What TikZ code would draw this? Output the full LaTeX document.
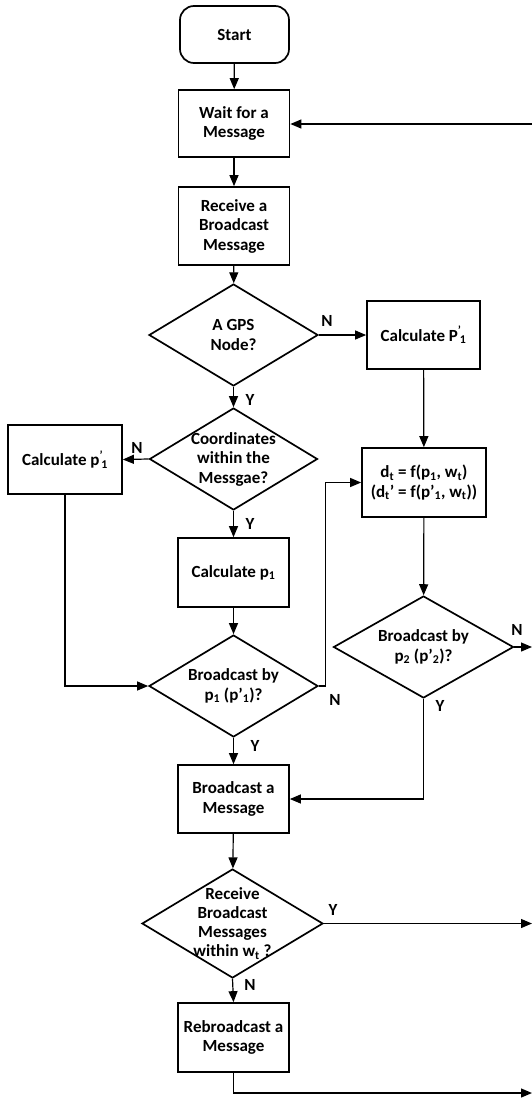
\documentclass[tikz,border=0pt]{standalone}
\usepackage{fontspec}
\setmainfont{Carlito}
\usetikzlibrary{shapes.geometric,arrows.meta}
\begin{document}
\begin{tikzpicture}[x=1pt,y=-1pt,
  every node/.style={font=\bfseries\fontsize{17}{19.5}\selectfont},
  box/.style={draw, line width=1.7pt, minimum width=111pt, minimum height=68pt, align=center, inner sep=0pt},
  dia/.style={draw, shape=diamond, line width=1.7pt, inner sep=0pt},
  txt/.style={align=center, inner sep=0pt},
  lbl/.style={inner sep=0pt},
  arr/.style={line width=1.2pt, -{Triangle[length=11pt,width=9pt]}}
]
\useasboundingbox (0,0) rectangle (532,1098);

% nodes
\node[box, rounded corners=14pt, minimum width=109pt, minimum height=57pt] (start) at (234.5,34.5) {Start};
\node[box, minimum height=67pt] (wait) at (234,123.5) {Wait for a\\Message};
\node[box, minimum height=78pt] (recv) at (234,226) {Receive a\\Broadcast\\Message};
\node[dia, minimum width=169pt, minimum height=102pt,
      label={[txt]center:{A GPS\\Node?}}] (gps) at (233.5,335) {};
\node[box, minimum width=113pt] (cp1r) at (423.5,335) {Calculate P\textsuperscript{’}\kern-0.1em\textsubscript{1}};
\node[dia, minimum width=168pt, minimum height=102pt,
      label={[txt]center:{Coordinates\\within the\\Messgae?}}] (coord) at (233.5,459) {};
\node[box, minimum width=114pt, minimum height=69pt] (cp1l) at (65,459.5) {Calculate p\textsuperscript{’}\kern-0.1em\textsubscript{1}};
\node[box, minimum height=69pt] (calcp1) at (233.5,572.5) {Calculate p\textsubscript{1}};
\node[box, minimum width=124pt, minimum height=69pt] (dt) at (424,482.5)
  {d\textsubscript{t} = f(p\textsubscript{1}, w\textsubscript{t})\\(d\textsubscript{t}’ = f(p’\textsubscript{1}, w\textsubscript{t}))};
\node[dia, minimum width=169pt, minimum height=102pt,
      label={[txt]center:{Broadcast by\\p\textsubscript{1} (p’\textsubscript{1})?}}] (bp1) at (233.5,686) {};
\node[dia, minimum width=180pt, minimum height=102pt,
      label={[txt]center:{Broadcast by\\p\textsubscript{2} (p’\textsubscript{2})?}}] (bp2) at (423.5,647) {};
\node[box] (bmsg) at (233.5,799) {Broadcast a\\Message};
\node[dia, minimum width=181pt, minimum height=109pt,
      label={[txt,font=\bfseries\fontsize{17}{19}\selectfont]center:{Receive\\Broadcast\\Messages\\within w\textsubscript{t} ?}}] (rbm) at (232.5,923.5) {};
\node[box, minimum height=69pt] (rebro) at (233.5,1037.5) {Rebroadcast a\\Message};

% free ends
\coordinate (e0) at (532,124);
\coordinate (e1) at (532,647);
\coordinate (e2) at (532,923.5);
\coordinate (e3) at (532,1093);

% connectors
\draw[arr] (start) -- (wait);
\draw[arr] (wait) -- (recv);
\draw[arr] (recv) -- (gps);
\draw[arr] (e0) -- (wait.east |- e0);
\draw[arr] (gps.east) -- (cp1r.west);
\draw[arr] (gps.south) -- (coord.north);
\draw[arr] (coord.west) -- (cp1l.east);
\draw[arr] (coord.south) -- (calcp1.north);
\draw[arr] (calcp1) -- (bp1);
\draw[arr] (cp1l.south) |- (bp1.west);
\draw[arr] (bp1.east) -- ++(7,0) |- (dt.west);
\draw[arr] (cp1r) -- (dt);
\draw[arr] (dt) -- (bp2);
\draw[arr] (bp2.east) -- (e1);
\draw[arr] (bp2.south) |- (bmsg.east);
\draw[arr] (bp1.south) -- (bmsg.north);
\draw[arr] (bmsg) -- (rbm);
\draw[arr] (rbm.east) -- (e2);
\draw[arr] (rbm.south) -- (rebro.north);
\draw[arr] (rebro.south) |- (e3);

% branch labels
\node[lbl] (l1) at (327,321) {N};
\node[lbl] (l2) at (250,400) {Y};
\node[lbl] (l3) at (137,448) {N};
\node[lbl] (l4) at (250,524) {Y};
\node[lbl] (l5) at (335,700) {N};
\node[lbl] (l6) at (517,630) {N};
\node[lbl] (l7) at (440,706) {Y};
\node[lbl] (l8) at (255,746) {Y};
\node[lbl] (l9) at (333,910) {Y};
\node[lbl] (l10) at (250,985) {N};
\end{tikzpicture}
\end{document}
